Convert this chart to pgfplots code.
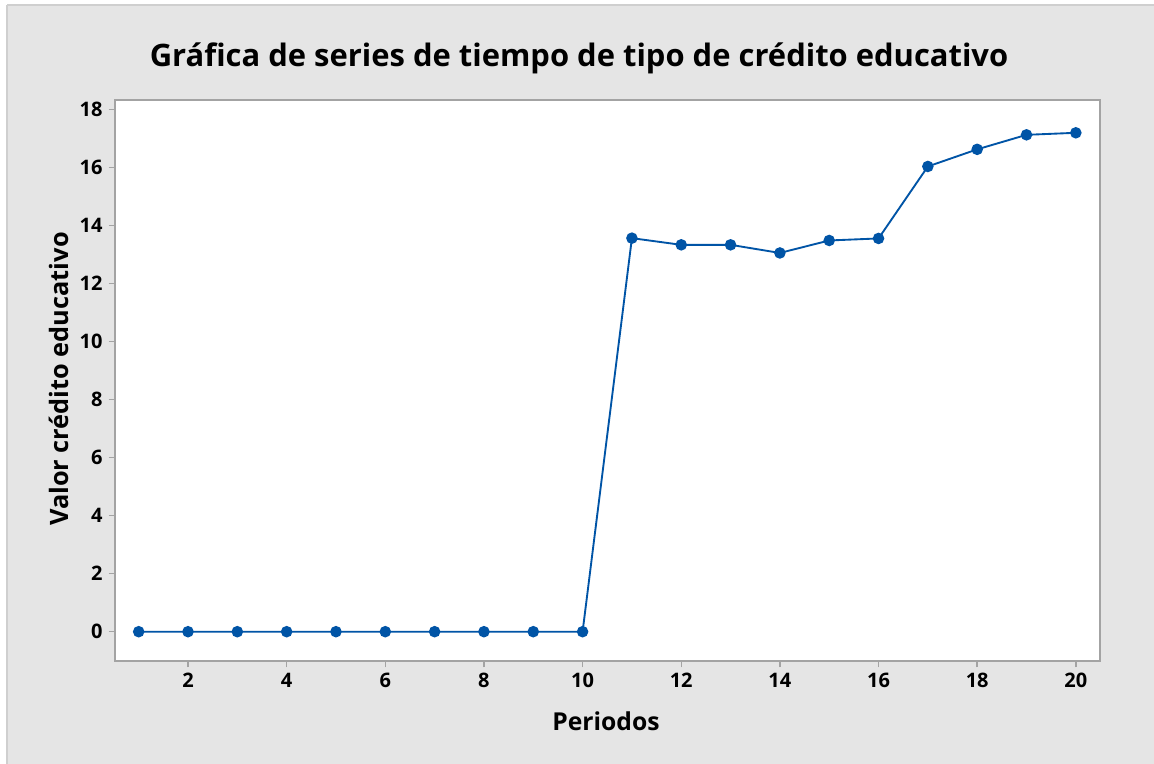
\documentclass[border=0pt]{standalone}
\usepackage{fontspec}
\setmainfont{Open Sans}
\usepackage{pgfplots}
\pgfplotsset{compat=1.18}
\definecolor{bggray}{HTML}{E5E5E5}
\definecolor{edgegray}{HTML}{CFCFCF}
\definecolor{framegray}{HTML}{A3A3A3}
\definecolor{serblue}{HTML}{0054A6}
\begin{document}
\begin{tikzpicture}[x=0.75pt,y=-0.75pt]
\useasboundingbox (0,0) rectangle (1154,764);
\fill[white] (0,0) rectangle (1154,764);
\fill[bggray] (7,5) rectangle (1154,764);
\draw[edgegray,line width=1.2pt] (7,5) -- (1154,5);
\draw[edgegray,line width=1.2pt] (7,5) -- (7,764);
\begin{axis}[
  at={(86.25pt,-495.75pt)}, anchor=south west,
  scale only axis, width=738.75pt, height=420.75pt,
  xmin=0.52, xmax=20.49, ymin=-1.01, ymax=18.32,
  xtick={2,4,...,20}, ytick={0,2,...,18},
  tick pos=left, tick align=outside,
  major tick length=4.8pt,
  axis line style={draw=framegray,line width=1.1pt},
  every tick/.style={framegray,line width=1.1pt},
  axis background/.style={fill=white},
  /pgf/number format/assume math mode=true,
  ticklabel style={font=\fontsize{15}{18}\selectfont\bfseries},
  yticklabel style={xshift=-1pt},
  xticklabel style={yshift=-1pt},
]
\addplot[serblue,line width=1.4pt,mark=*,mark size=3.6pt,mark options={fill=serblue,draw=serblue}]
coordinates {
(1,0) (2,0) (3,0) (4,0) (5,0) (6,0) (7,0) (8,0) (9,0) (10,0)
(11,13.56) (12,13.33) (13,13.33) (14,13.05) (15,13.48) (16,13.55)
(17,16.03) (18,16.62) (19,17.12) (20,17.19)
};
\end{axis}
\node[anchor=base,font=\fontsize{23.2}{28}\selectfont\bfseries] at (579,66.7) {Gráfica de series de tiempo de tipo de crédito educativo};
\node[anchor=base,font=\fontsize{18.5}{22}\selectfont\bfseries] at (606,730) {Periodos};
\node[anchor=base,rotate=90,font=\fontsize{19}{23}\selectfont\bfseries] at (68,379) {Valor crédito educativo};
\end{tikzpicture}
\end{document}
